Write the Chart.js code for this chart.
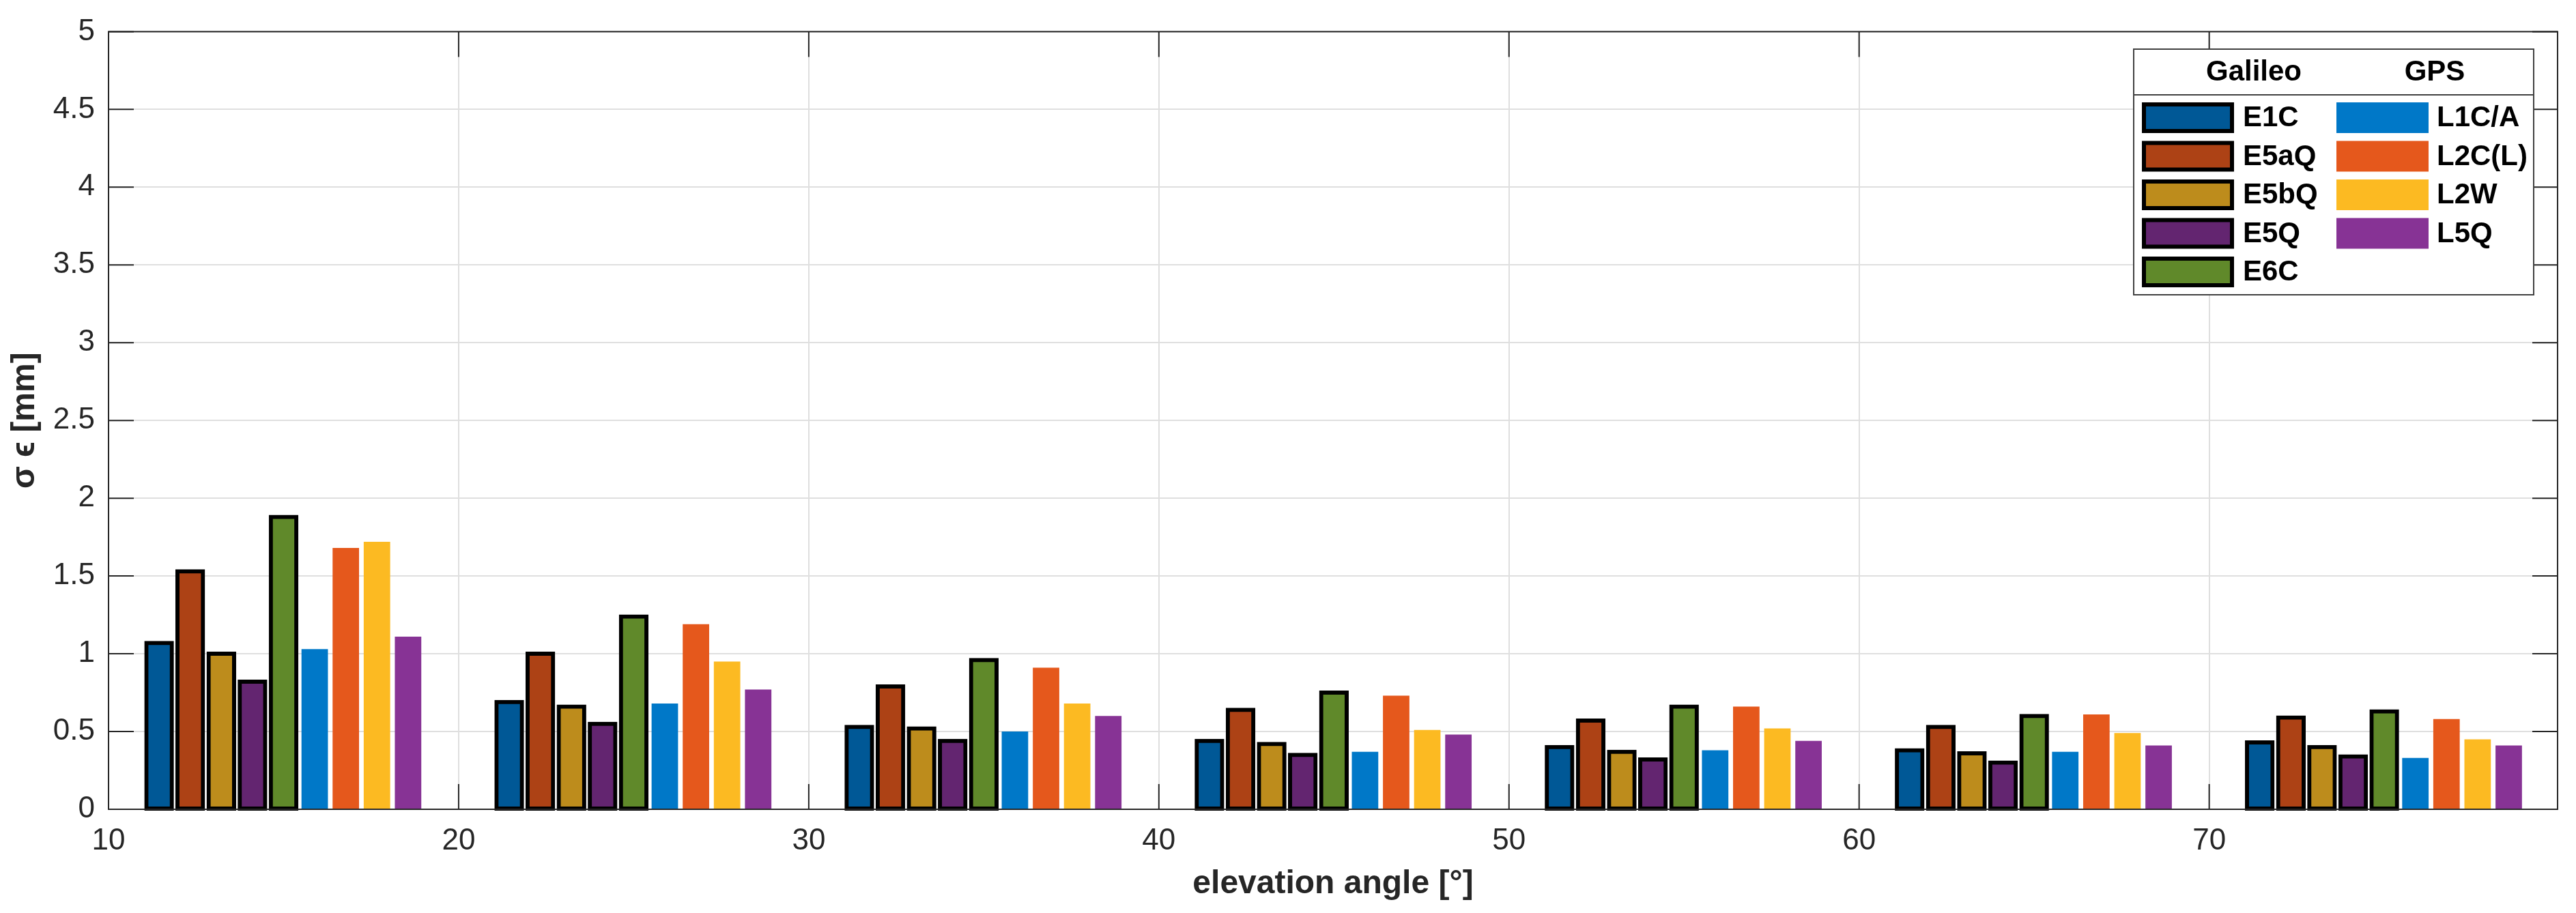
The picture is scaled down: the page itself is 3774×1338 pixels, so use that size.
<!DOCTYPE html>
<html>
<head>
<meta charset="utf-8">
<script src="https://cdn.jsdelivr.net/npm/chart.js@4/dist/chart.umd.min.js"></script>
<style>
  html, body { margin: 0; padding: 0; background: #ffffff; }
  #wrap { width: 3774px; height: 1338px; }
</style>
</head>
<body>
<div id="wrap"><canvas id="c" width="3774" height="1338"></canvas></div>
<script>
// ---- data ----
const elevations = [15, 25, 35, 45, 55, 65, 75];
const xTickValues = [10, 20, 30, 40, 50, 60, 70, 80];
const yTickValues = [0, 0.5, 1, 1.5, 2, 2.5, 3, 3.5, 4, 4.5, 5];

const galileoLabels = ['E1C', 'E5aQ', 'E5bQ', 'E5Q', 'E6C'];
const gpsLabels = ['L1C/A', 'L2C(L)', 'L2W', 'L5Q'];

const E1C  = [1.07, 0.69, 0.53, 0.44, 0.40, 0.38, 0.43];
const E5aQ = [1.53, 1.00, 0.79, 0.64, 0.57, 0.53, 0.59];
const E5bQ = [1.00, 0.66, 0.52, 0.42, 0.37, 0.36, 0.40];
const E5Q  = [0.82, 0.55, 0.44, 0.35, 0.32, 0.30, 0.34];
const E6C  = [1.88, 1.24, 0.96, 0.75, 0.66, 0.60, 0.63];
const L1CA = [1.03, 0.68, 0.50, 0.37, 0.38, 0.37, 0.33];
const L2CL = [1.68, 1.19, 0.91, 0.73, 0.66, 0.61, 0.58];
const L2W  = [1.72, 0.95, 0.68, 0.51, 0.52, 0.49, 0.45];
const L5Q  = [1.11, 0.77, 0.60, 0.48, 0.44, 0.41, 0.41];

const galileoSeries = [E1C, E5aQ, E5bQ, E5Q, E6C];
const gpsSeries = [L1CA, L2CL, L2W, L5Q];

// ---- styles ----
const galileoColors = ['#005896', '#AD4215', '#BD8C1C', '#632570', '#60892A'];
const gpsColors = ['#0078C8', '#E5581C', '#FCBA22', '#873395'];
const FONT = "'Liberation Sans', Arial, Helvetica, sans-serif";
const AXIS_COLOR = '#262626';

function points(arr) { return elevations.map((x, i) => ({ x: x, y: arr[i] })); }

const datasets = [];
galileoLabels.forEach((lab, i) => {
  datasets.push({
    label: lab,
    data: points(galileoSeries[i]),
    backgroundColor: galileoColors[i],
    borderColor: '#000000',
    borderWidth: 6,
    borderSkipped: false,
    inflateAmount: 3,
    barPercentage: 0.82,
    categoryPercentage: 0.8,
    clip: 10
  });
});
gpsLabels.forEach((lab, i) => {
  datasets.push({
    label: lab,
    data: points(gpsSeries[i]),
    backgroundColor: gpsColors[i],
    borderWidth: 0,
    inflateAmount: 0,
    barPercentage: 0.85,
    categoryPercentage: 0.8,
    clip: 4
  });
});

const framePlugin = {
  id: 'framePlugin',
  afterDatasetsDraw(chart) {
    const { ctx, chartArea: a, scales: { x, y } } = chart;
    const L = 37;
    ctx.save();
    ctx.strokeStyle = AXIS_COLOR;
    ctx.lineWidth = 2;
    ctx.beginPath();
    x.ticks.forEach(t => {
      const px = x.getPixelForValue(t.value);
      if (px < a.left - 1 || px > a.right + 1) return;
      ctx.moveTo(px, a.bottom); ctx.lineTo(px, a.bottom - L);
      ctx.moveTo(px, a.top); ctx.lineTo(px, a.top + L);
    });
    y.ticks.forEach(t => {
      const py = y.getPixelForValue(t.value);
      ctx.moveTo(a.left, py); ctx.lineTo(a.left + L, py);
      ctx.moveTo(a.right, py); ctx.lineTo(a.right - L, py);
    });
    ctx.stroke();
    ctx.strokeRect(a.left, a.top, a.right - a.left, a.bottom - a.top);
    ctx.restore();
  }
};

const legendPlugin = {
  id: 'groupLegend',
  afterDraw(chart) {
    const { ctx } = chart;
    const box = { l: 3126, t: 72, r: 3712, b: 432 };
    const divY = 139;
    ctx.save();
    ctx.fillStyle = '#ffffff';
    ctx.fillRect(box.l, box.t, box.r - box.l, box.b - box.t);
    ctx.strokeStyle = '#404040';
    ctx.lineWidth = 2;
    ctx.strokeRect(box.l, box.t, box.r - box.l, box.b - box.t);
    ctx.beginPath();
    ctx.moveTo(box.l, divY); ctx.lineTo(box.r, divY);
    ctx.stroke();

    ctx.fillStyle = '#000000';
    ctx.textBaseline = 'middle';
    ctx.textAlign = 'center';
    ctx.font = 'bold 42px ' + FONT;
    ctx.fillText('Galileo', 3302, 106);
    ctx.fillText('GPS', 3567, 106);

    const rowY0 = 172.5, rowStep = 56.5, swW = 135, swH = 45;
    ctx.font = 'bold 42px ' + FONT;
    ctx.textAlign = 'left';
    const ds = chart.data.datasets;
    galileoLabels.forEach((lab, i) => {
      const cy = rowY0 + i * rowStep;
      const d = ds[i];
      ctx.fillStyle = '#000000';
      ctx.fillRect(3138, cy - swH / 2, swW, swH);
      ctx.fillStyle = d.backgroundColor;
      ctx.fillRect(3138 + 6, cy - swH / 2 + 6, swW - 12, swH - 12);
      ctx.fillStyle = '#000000';
      ctx.fillText(d.label, 3286, cy + 1);
    });
    gpsLabels.forEach((lab, i) => {
      const cy = rowY0 + i * rowStep;
      const d = ds[galileoLabels.length + i];
      ctx.fillStyle = d.backgroundColor;
      ctx.fillRect(3423, cy - swH / 2, swW, swH);
      ctx.fillStyle = '#000000';
      ctx.fillText(d.label, 3570, cy + 1);
    });
    ctx.restore();
  }
};

new Chart(document.getElementById('c'), {
  type: 'bar',
  data: { datasets: datasets },
  options: {
    responsive: false,
    animation: false,
    devicePixelRatio: 1,
    layout: { padding: { top: 39, right: 27, bottom: 0, left: 0 } },
    plugins: { legend: { display: false }, tooltip: { enabled: false } },
    scales: {
      x: {
        type: 'linear',
        min: 10,
        max: 79.95,
        offset: false,
        afterBuildTicks: s => { s.ticks = xTickValues.filter(v => v <= s.max).map(v => ({ value: v })); },
        afterFit: s => { s.height = 152; },
        grid: { offset: false, color: '#dfdfdf', lineWidth: 2, drawTicks: false },
        border: { display: false },
        ticks: {
          padding: 20,
          color: AXIS_COLOR,
          font: { family: FONT, size: 44 },
          maxRotation: 0,
          autoSkip: false,
          callback: v => String(v)
        },
        title: {
          display: true,
          text: 'elevation angle [°]',
          color: AXIS_COLOR,
          font: { family: FONT, size: 48, weight: 'bold' },
          padding: { top: 0, bottom: 13 }
        }
      },
      y: {
        min: 0,
        max: 5,
        afterBuildTicks: s => { s.ticks = yTickValues.map(v => ({ value: v })); },
        afterFit: s => { s.width = 159; },
        grid: { color: '#dfdfdf', lineWidth: 2, drawTicks: false },
        border: { display: false },
        ticks: {
          padding: 20,
          color: AXIS_COLOR,
          font: { family: FONT, size: 44 },
          autoSkip: false,
          callback: v => String(v)
        },
        title: {
          display: true,
          text: 'σ ϵ [mm]',
          color: AXIS_COLOR,
          font: { family: FONT, size: 48, weight: 'bold' },
          padding: { top: 8, bottom: 0 }
        }
      }
    }
  },
  plugins: [framePlugin, legendPlugin]
});
</script>
</body>
</html>
